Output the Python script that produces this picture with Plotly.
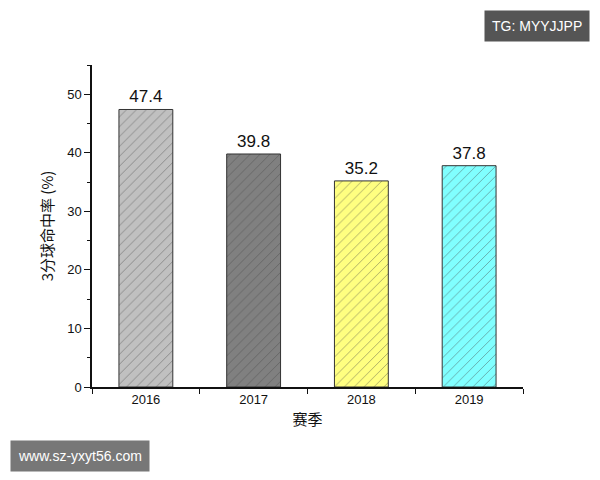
import plotly.graph_objects as go

seasons = ["2016", "2017", "2018", "2019"]
rates = [47.4, 39.8, 35.2, 37.8]
bar_colors = ["#c0c0c0", "#808080", "#ffff80", "#80ffff"]

fig = go.Figure()
fig.add_trace(go.Bar(
    x=seasons, y=rates, width=0.5,
    marker=dict(color=bar_colors, line=dict(color="#333", width=1),
                pattern=dict(shape="/", fgcolor="#222", size=7, solidity=0.12)),
    text=[f"{v:.1f}" for v in rates], textposition="outside",
    textfont=dict(family="Liberation Sans, Arial", size=17, color="#111"),
    cliponaxis=False,
))

# page adds an 8px body offset, so margins are shifted by -8 to line up
fig.update_layout(
    width=600, height=480,
    margin=dict(l=84, r=85, t=57, b=101),
    plot_bgcolor="white", paper_bgcolor="white",
    showlegend=False,
    font=dict(family="Liberation Sans, Arial", color="#111"),
    xaxis=dict(
        showline=True, linecolor="#111", linewidth=1.5,
        ticks="outside", tickson="boundaries", ticklen=5, tickcolor="#111",
        tickfont=dict(size=13),
        title=dict(text="赛季", font=dict(family="Noto Sans CJK SC", size=15), standoff=8),
    ),
    yaxis=dict(
        range=[0, 55], dtick=10, showgrid=False, zeroline=False,
        showline=True, linecolor="#111", linewidth=1.5,
        ticks="outside", ticklen=6, tickcolor="#111", tickfont=dict(size=13),
        minor=dict(ticks="outside", ticklen=3, dtick=5, tickcolor="#111"),
        title=dict(text="3分球命中率 (%)", font=dict(family="Noto Sans CJK SC", size=15), standoff=10),
    ),
    annotations=[
        dict(text="TG: MYYJJPP", xref="paper", yref="paper", x=1.155, y=1.171,
             xanchor="right", yanchor="top", showarrow=False, bgcolor="#555555",
             font=dict(color="white", size=14), borderpad=7),
        dict(text="www.sz-yxyt56.com", xref="paper", yref="paper", x=-0.19, y=-0.165,
             xanchor="left", yanchor="top", showarrow=False, bgcolor="#777777",
             font=dict(color="white", size=14), borderpad=7),
    ],
)

fig.write_html("out.html")
